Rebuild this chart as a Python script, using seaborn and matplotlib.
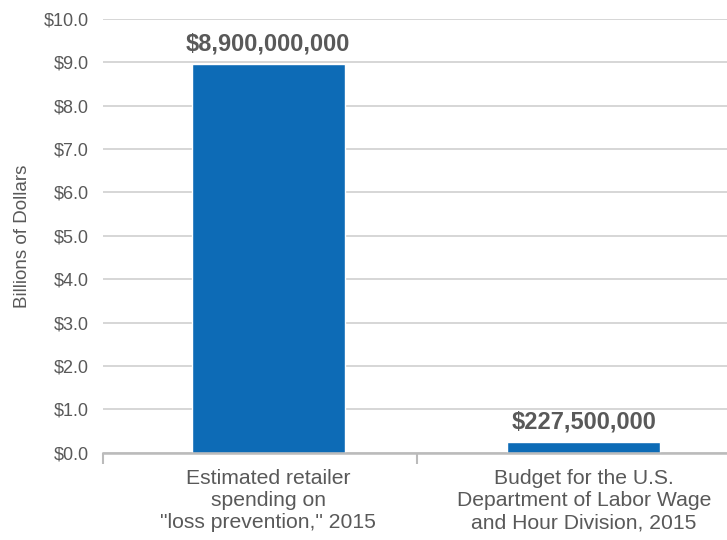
import matplotlib
matplotlib.use("Agg")
import matplotlib.pyplot as plt
import seaborn as sns
import pandas as pd

categories = ['Estimated retailer\nspending on\n"loss prevention," 2015',
              'Budget for the U.S.\nDepartment of Labor Wage\nand Hour Division, 2015']
values_billions = [8.96, 0.25]
value_labels = ["$8,900,000,000", "$227,500,000"]
y_ticks = [0, 1, 2, 3, 4, 5, 6, 7, 8, 9, 10]
y_tick_labels = ["$0.0", "$1.0", "$2.0", "$3.0", "$4.0", "$5.0",
                 "$6.0", "$7.0", "$8.0", "$9.0", "$10.0"]
y_label = "Billions of Dollars"

sns.set_theme(style="white")
plt.rcParams['font.family'] = ['Liberation Sans', 'DejaVu Sans']

text_color = "#595959"
bar_color = "#0d6bb6"

df = pd.DataFrame({"cat": categories, "val": values_billions})

fig = plt.figure(figsize=(7.27, 5.40), dpi=100)
ax = fig.add_axes([102.7 / 727, 1 - 452.7 / 540, (727 - 102.7) / 727, (452.7 - 19) / 540])

sns.barplot(data=df, x="cat", y="val", color=bar_color, width=0.486,
            saturation=1, ax=ax)

ax.set_xlim(-0.525, 1.454)
ax.set_ylim(0, 10)
ax.set_yticks(y_ticks)
ax.set_yticklabels(y_tick_labels, fontsize=13, color=text_color)
ax.yaxis.grid(True, color="#cccccc", linewidth=1.1)
ax.set_axisbelow(True)
ax.tick_params(axis="y", length=0, pad=10)

ax.set_xticks([0, 1])
ax.set_xticklabels(categories, fontsize=15.2, color=text_color, linespacing=1.2)
for lbl in ax.get_xticklabels():
    lbl.set_multialignment("center")
ax.tick_params(axis="x", which="major", length=0, pad=12)
ax.set_xticks([-0.525, 0.472], minor=True)
ax.tick_params(axis="x", which="minor", bottom=True, length=8, width=1.5,
               color="#bbbbbb", direction="out")

for s in ["top", "right", "left"]:
    ax.spines[s].set_visible(False)
ax.spines["bottom"].set_color("#bbbbbb")
ax.spines["bottom"].set_linewidth(1.8)

ax.set_xlabel("")
ax.set_ylabel(y_label, fontsize=13.5, color=text_color, labelpad=9)

ax.bar_label(ax.containers[0], labels=value_labels, padding=6,
             fontsize=17, fontweight="bold", color=text_color)

fig.savefig("out.png", dpi=100)
